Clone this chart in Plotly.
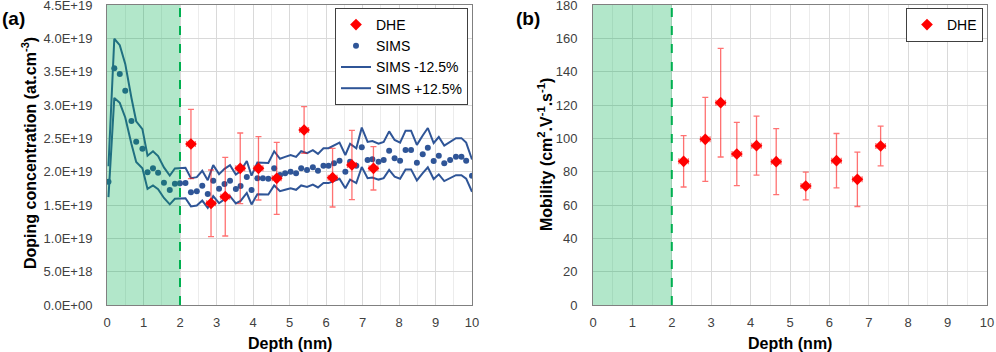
import plotly.graph_objects as go

# ---------------- data ----------------
depth_dhe = [2.30, 2.85, 3.24, 3.65, 4.15, 4.65, 5.40, 6.18, 6.71, 7.30]
depth_dhe_err = [0.12, 0.12, 0.12, 0.12, 0.12, 0.12, 0.12, 0.12, 0.12, 0.12]
conc_dhe = [2.415e19, 1.525e19, 1.625e19, 2.05e19, 2.05e19, 1.90e19, 2.625e19, 1.91e19, 2.10e19, 2.05e19]
conc_dhe_err = [0.52e19, 0.50e19, 0.59e19, 0.53e19, 0.475e19, 0.54e19, 0.35e19, 0.44e19, 0.52e19, 0.325e19]
mob_dhe = [86.2, 99.4, 121.4, 90.6, 95.6, 86.0, 71.4, 86.6, 75.4, 95.4]
mob_dhe_err = [15.4, 25.2, 32.6, 19.0, 17.7, 19.8, 8.3, 16.3, 16.3, 11.9]

depth_sims = [0.04, 0.20, 0.35, 0.50, 0.67, 0.80, 0.97, 1.11, 1.26, 1.40, 1.56, 1.72, 1.86,
              2.00, 2.15, 2.30, 2.46, 2.61, 2.76, 2.91, 3.07, 3.22, 3.37, 3.53, 3.66, 3.83,
              3.96, 4.12, 4.27, 4.42, 4.58, 4.74, 4.88, 5.03, 5.18, 5.32, 5.48, 5.64, 5.78,
              5.93, 6.07, 6.22, 6.37, 6.53, 6.66, 6.83, 6.98, 7.14, 7.27, 7.44, 7.58, 7.73,
              7.88, 8.03, 8.18, 8.33, 8.49, 8.65, 8.79, 8.95, 9.09, 9.24, 9.40, 9.56, 9.71,
              9.84, 10.00]
conc_sims_e19 = [1.85, 3.55, 3.465, 3.215, 2.76, 2.45, 2.345, 1.99, 2.05, 1.985, 1.835, 1.725, 1.82,
                 1.825, 1.83, 1.69, 1.705, 1.79, 1.665, 1.865, 1.745, 1.815, 1.865, 1.74, 1.785, 1.92,
                 1.725, 1.90, 1.90, 1.895, 2.05, 1.95, 1.975, 2.0, 1.975, 2.05, 2.025, 2.065, 2.015,
                 2.09, 2.09, 2.125, 2.165, 2.0, 2.15, 2.09, 2.365, 2.175, 2.185, 2.15, 2.175, 2.315,
                 2.2, 2.165, 2.325, 2.325, 2.135, 2.26, 2.36, 2.16, 2.24, 2.125, 2.175, 2.225, 2.225,
                 2.165, 1.94]
band_fraction = 0.125  # SIMS +/- 12.5 %

conc_tickvals = [0, 5e18, 1e19, 1.5e19, 2e19, 2.5e19, 3e19, 3.5e19, 4e19, 4.5e19]
conc_ticktext = ["0.0E+00", "5.0E+18", "1.0E+19", "1.5E+19", "2.0E+19",
                 "2.5E+19", "3.0E+19", "3.5E+19", "4.0E+19", "4.5E+19"]

# derived
conc_sims = [v * 1e19 for v in conc_sims_e19]
conc_low = [v * (1 - band_fraction) for v in conc_sims]
conc_high = [v * (1 + band_fraction) for v in conc_sims]

# ---------------- style ----------------
FONT = "Liberation Sans, Arial, sans-serif"
BLUE = "#2F5597"
RED = "#FF0000"
ERR = "rgba(255,20,20,0.6)"
W, H = 996, 352

def px_x(p):
    return p / W

def px_y(p):
    return 1 - p / H

fig = go.Figure()

fig.add_trace(go.Scatter(x=depth_sims, y=conc_low, mode="lines", name="SIMS -12.5%",
                         line=dict(color=BLUE, width=2), xaxis="x", yaxis="y",
                         legend="legend", legendrank=3))
fig.add_trace(go.Scatter(x=depth_sims, y=conc_high, mode="lines", name="SIMS +12.5%",
                         line=dict(color=BLUE, width=2), xaxis="x", yaxis="y",
                         legend="legend", legendrank=4))
fig.add_trace(go.Scatter(x=depth_sims, y=conc_sims, mode="markers", name="SIMS",
                         marker=dict(color=BLUE, size=6), xaxis="x", yaxis="y",
                         legend="legend", legendrank=2))
fig.add_trace(go.Scatter(x=depth_dhe, y=conc_dhe, mode="markers", name="DHE",
                         marker=dict(color=RED, size=9, symbol="diamond"),
                         error_y=dict(type="data", array=conc_dhe_err, color=ERR, thickness=1.3, width=3),
                         error_x=dict(type="data", array=depth_dhe_err, color=ERR, thickness=1.3, width=3),
                         xaxis="x", yaxis="y", legend="legend", legendrank=1))
fig.add_trace(go.Scatter(x=depth_dhe, y=mob_dhe, mode="markers", name="DHE",
                         marker=dict(color=RED, size=9, symbol="diamond"),
                         error_y=dict(type="data", array=mob_dhe_err, color=ERR, thickness=1.3, width=3),
                         error_x=dict(type="data", array=depth_dhe_err, color=ERR, thickness=1.3, width=3),
                         xaxis="x2", yaxis="y2", legend="legend2"))

axis_common = dict(
    showline=True, linecolor="#808080", linewidth=1, mirror=True,
    showgrid=True, gridcolor="#d9d9d9", gridwidth=1, zeroline=False,
    ticks="", tickfont=dict(family=FONT, size=13, color="#404040"),
    automargin=False, fixedrange=True, ticklabeloverflow="allow",
)
xcommon = dict(axis_common, range=[0, 10], dtick=1, tick0=0, ticklabelstandoff=5,
               minor=dict(dtick=0.5, showgrid=True, gridcolor="#ececec", gridwidth=1))

fig.update_layout(
    width=W, height=H,
    margin=dict(l=0, r=0, t=0, b=0),
    paper_bgcolor="white", plot_bgcolor="white",
    font=dict(family=FONT, color="#000000"),
    xaxis=dict(xcommon, domain=[px_x(107), px_x(472)], anchor="y"),
    yaxis=dict(axis_common, domain=[px_y(305), px_y(5)], anchor="x",
               range=[0, 4.5e19], tickmode="array", tickvals=conc_tickvals,
               ticktext=conc_ticktext, ticklabelstandoff=11),
    xaxis2=dict(xcommon, domain=[px_x(593), px_x(987)], anchor="y2"),
    yaxis2=dict(axis_common, domain=[px_y(305), px_y(5)], anchor="x2",
                range=[0, 180], dtick=20, tick0=0, ticklabelstandoff=12),
    legend=dict(x=px_x(468), xanchor="right", y=px_y(8), yanchor="top",
                bordercolor="#404040", borderwidth=1, bgcolor="white",
                font=dict(family=FONT, size=14, color="#000000"),
                itemwidth=30, tracegroupgap=0),
    legend2=dict(x=px_x(983), xanchor="right", y=px_y(8), yanchor="top",
                 bordercolor="#404040", borderwidth=1, bgcolor="white",
                 font=dict(family=FONT, size=14, color="#000000"),
                 itemwidth=30),
    showlegend=True,
)

# shaded region + dashed boundary
for xr, yr in (("x", "y"), ("x2", "y2")):
    fig.add_shape(type="rect", xref=xr, yref=yr + " domain", x0=0, x1=2, y0=0, y1=1,
                  fillcolor="rgba(0,176,80,0.30)", line=dict(width=0), layer="above")
    fig.add_shape(type="line", xref=xr, yref=yr + " domain", x0=2, x1=2, y0=0, y1=1,
                  line=dict(color="#00B050", width=2, dash="dash"), layer="above")

def label(text, xp, yp, size, angle=0):
    return dict(text=text, x=px_x(xp), y=px_y(yp), xref="paper", yref="paper",
                xanchor="center", yanchor="middle", showarrow=False, textangle=angle,
                font=dict(size=size, family=FONT, color="#000"))

ann = [
    label("<b>(a)</b>", 13, 18, 19),
    label("<b>(b)</b>", 528, 19, 19),
    label("<b>Doping concentration (at.cm<sup>-3</sup>)</b>", 29, 153, 16, -90),
    label("<b>Mobility (cm<sup>2</sup>.V<sup>-1</sup>.s<sup>-1</sup>)</b>", 545, 155, 16, -90),
    label("<b>Depth (nm)</b>", 290, 343, 16),
    label("<b>Depth (nm)</b>", 790, 343, 16),
]
fig.update_layout(annotations=ann)

fig.write_html("out.html")
